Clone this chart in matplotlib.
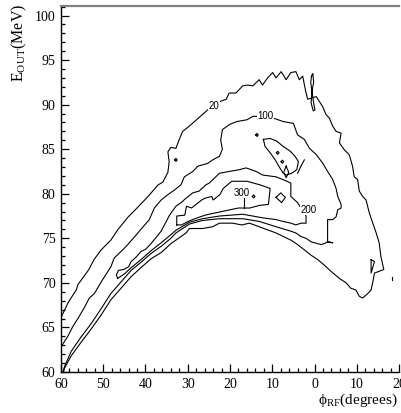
import numpy as np
import matplotlib.pyplot as plt
from matplotlib.ticker import MultipleLocator, FixedLocator, FixedFormatter

plt.rcParams['font.family'] = ['Liberation Serif', 'DejaVu Serif']
plt.rcParams['mathtext.fontset'] = 'custom'
plt.rcParams['mathtext.rm'] = 'Liberation Serif'

# contour lines, (phi_RF [deg], E_out [MeV])
c20 = [(-60.0, 66.1), (-58.3, 67.8), (-56.4, 69.2), (-56.0, 69.8), (-53.4, 71.5), (-52.2, 72.6),
       (-50.5, 73.7), (-48.2, 74.8), (-46.5, 76.0), (-44.1, 77.4), (-41.8, 78.5), (-39.4, 79.7),
       (-37.0, 81.0), (-35.9, 81.3), (-34.7, 82.4), (-34.4, 83.6), (-34.7, 84.7), (-34.0, 85.2),
       (-32.8, 85.1), (-32.0, 86.1), (-31.2, 87.0), (-29.6, 87.6), (-28.4, 88.1), (-26.5, 88.9),
       (-25.3, 89.4), (-23.3, 90.2), (-20.9, 90.6), (-20.2, 91.3), (-18.6, 91.3), (-17.0, 92.1),
       (-15.8, 92.2), (-14.6, 92.1), (-13.1, 92.8), (-12.3, 92.2), (-11.1, 93.0), (-9.9, 93.6),
       (-9.1, 93.0), (-7.9, 93.7), (-7.5, 93.4), (-6.7, 92.8), (-5.6, 93.6), (-4.4, 93.7),
       (-3.6, 92.8), (-2.8, 93.2), (-2.0, 91.3), (-1.6, 90.6), (0.4, 90.9), (1.9, 89.8),
       (2.7, 88.9), (3.5, 88.5), (4.3, 87.6), (5.1, 87.0), (6.3, 86.8), (5.9, 85.7), (7.1, 84.9),
       (8.2, 84.4), (9.0, 83.1), (9.4, 81.9), (10.2, 81.6), (10.6, 80.3), (11.4, 79.7),
       (12.2, 79.3), (13.0, 77.8), (13.8, 76.7), (14.6, 75.6), (15.3, 74.5), (15.7, 73.0),
       (16.4, 71.5), (15.3, 71.3), (14.2, 71.1), (13.8, 70.1), (13.4, 69.2), (12.6, 68.8),
       (11.4, 68.3), (10.6, 68.5), (9.8, 69.2), (8.6, 69.4), (7.5, 70.0), (5.9, 70.5), (3.9, 71.3),
       (2.3, 72.0), (0.8, 72.6), (-0.8, 73.1), (-2.4, 73.7), (-4.0, 74.3), (-5.6, 74.8),
       (-9.1, 75.6), (-13.1, 76.3), (-15.4, 76.7), (-17.2, 76.5), (-19.4, 76.7), (-22.5, 76.7),
       (-24.1, 76.3), (-26.5, 76.1), (-29.6, 76.1), (-30.4, 75.6), (-32.8, 74.8), (-34.0, 74.4),
       (-36.3, 73.4), (-38.7, 72.7), (-41.1, 71.7), (-43.4, 70.7), (-45.8, 69.4), (-48.2, 68.1),
       (-50.5, 66.4), (-52.9, 64.8), (-55.3, 63.3), (-57.6, 61.8), (-59.2, 60.4), (-59.4, 60.0)]

c100 = [(-60.0, 62.8), (-58.4, 64.0), (-57.2, 65.1), (-56.0, 66.0), (-54.5, 67.2), (-53.3, 68.3),
        (-52.1, 68.8), (-50.5, 70.1), (-48.2, 71.8), (-47.4, 72.8), (-45.4, 73.7), (-44.2, 74.3),
        (-41.8, 75.6), (-41.1, 76.0), (-39.1, 77.1), (-37.9, 78.4), (-36.3, 79.3), (-34.7, 79.9),
        (-33.2, 80.4), (-31.6, 81.0), (-30.8, 81.9), (-28.8, 82.5), (-27.6, 83.1), (-25.3, 83.4),
        (-24.1, 83.8), (-22.5, 84.2), (-21.8, 85.0), (-22.2, 86.0), (-21.8, 87.2), (-20.0, 87.8),
        (-18.4, 88.1), (-16.0, 88.3), (-14.5, 88.7), (-12.0, 88.6), (-9.8, 88.5), (-7.4, 88.1),
        (-5.0, 87.9), (-4.0, 86.6), (-2.4, 86.1), (-1.2, 85.1), (0.4, 84.4), (2.0, 83.4),
        (3.1, 82.5), (4.3, 81.6), (5.1, 80.6), (5.5, 79.7), (6.3, 78.8), (6.3, 78.4), (5.5, 78.2),
        (5.1, 77.4), (4.3, 77.1), (3.1, 77.1), (3.1, 74.6), (4.3, 74.5), (3.1, 74.6), (2.3, 74.4),
        (1.5, 74.3), (0.8, 74.4), (-0.8, 74.6), (-2.0, 75.0), (-3.2, 75.2), (-4.4, 75.6),
        (-5.6, 75.8), (-9.1, 76.3), (-13.1, 76.9), (-17.0, 77.2), (-22.5, 77.2), (-26.5, 77.0),
        (-29.6, 76.6), (-32.8, 75.6), (-34.0, 75.0), (-36.3, 74.1), (-38.7, 73.3), (-41.1, 72.3),
        (-43.4, 71.4), (-45.8, 70.1), (-48.2, 68.8), (-50.5, 67.1), (-52.9, 65.4), (-55.3, 63.9),
        (-57.6, 62.3), (-59.0, 60.8), (-59.6, 60.0)]

c200 = [(-46.6, 70.5), (-46.9, 70.9), (-46.4, 71.4), (-45.2, 71.5), (-44.0, 71.8), (-43.4, 72.4),
        (-42.2, 72.9), (-41.1, 73.5), (-39.9, 73.8), (-38.7, 74.4), (-37.5, 75.1), (-36.3, 75.8),
        (-35.3, 76.7), (-34.3, 77.6), (-32.8, 78.6), (-31.6, 79.0), (-30.4, 79.5), (-28.8, 80.1),
        (-27.3, 80.3), (-25.7, 81.0), (-24.9, 81.2), (-22.5, 82.3), (-20.2, 82.5), (-17.8, 82.7),
        (-16.2, 82.9), (-13.8, 82.5), (-12.3, 82.1), (-9.1, 81.9), (-7.5, 81.6), (-5.6, 81.2),
        (-5.6, 79.7), (-4.0, 79.0), (-3.2, 78.4), (-2.0, 77.5), (-2.0, 76.7), (-3.2, 76.7),
        (-4.4, 76.5), (-5.6, 76.7), (-7.5, 76.9), (-9.1, 77.1), (-12.3, 77.3), (-14.6, 77.5),
        (-17.0, 77.7), (-22.5, 77.5), (-26.5, 77.2), (-29.6, 76.8), (-32.8, 75.9), (-34.0, 75.4),
        (-36.3, 74.5), (-38.7, 73.6), (-41.1, 72.6), (-43.4, 71.7), (-45.0, 71.0), (-46.6, 70.5)]

c300 = [(-32.6, 76.5), (-32.6, 77.5), (-30.7, 77.6), (-30.3, 78.6), (-29.1, 78.4), (-26.7, 79.3),
        (-25.9, 79.5), (-24.3, 79.7), (-24.0, 79.3), (-22.4, 79.9), (-21.6, 80.6), (-19.6, 81.4),
        (-16.0, 81.4), (-12.9, 81.0), (-10.5, 80.6), (-10.9, 78.8), (-13.0, 78.7), (-15.3, 78.4),
        (-18.0, 78.4), (-22.0, 78.0), (-25.9, 77.6), (-28.3, 77.2), (-29.9, 76.9), (-31.5, 76.5),
        (-32.6, 76.5)]

# small closed islands
island_a = [(-12.1, 86.1), (-10.5, 86.2), (-8.9, 85.9), (-7.4, 85.3), (-5.8, 84.8), (-4.6, 84.2),
            (-3.8, 83.6), (-4.2, 82.7), (-5.4, 82.3), (-6.6, 82.1), (-7.4, 82.3), (-8.2, 82.9),
            (-9.3, 83.8), (-10.5, 84.6), (-11.7, 85.3), (-12.1, 86.1)]
spike_a = [(-4.0, 82.3), (-3.2, 83.1), (-2.4, 83.8)]
diamond_a = [(-6.7, 83.1), (-6.1, 82.4), (-6.7, 81.8), (-7.3, 82.4), (-6.7, 83.1)]
diamond_b = [(-9.1, 79.6), (-8.0, 80.1), (-6.9, 79.6), (-7.8, 79.0), (-9.1, 79.6)]
spike_top = [(-0.7, 93.2), (-0.4, 93.5), (-0.2, 92.5), (-0.6, 91.5), (-0.2, 90.2), (0.1, 89.4),
             (-0.3, 89.3), (-0.8, 90.2), (-0.6, 91.5), (-0.9, 92.5), (-0.7, 93.2)]
tri_right = [(13.4, 72.6), (14.2, 72.4), (13.4, 71.1), (13.4, 72.6)]
dot_right = [(18.3, 70.3), (18.3, 70.7)]
blobs = [(-13.6, 86.6), (-8.7, 84.6), (-14.4, 79.7), (-32.8, 83.8), (-7.6, 83.6)]
tick_300 = [(-16.6, 78.4), (-16.6, 79.5)]

labels = ['20', '100', '200', '300']
label_pos = [(-23.8, 89.9), (-11.7, 88.75), (-1.3, 78.2), (-17.3, 80.1)]

fig = plt.figure(figsize=(4.01, 4.13), dpi=100)
ax = fig.add_axes([61 / 401, 41 / 413, 338 / 401, 366.3 / 413])

lines = [c20, c100, c200, c300, island_a, spike_a, diamond_a, diamond_b, spike_top,
         tri_right, dot_right, tick_300]
for pts in lines:
    p = np.array(pts)
    ax.plot(p[:, 0], p[:, 1], color='black', lw=0.8)

for bx, by in blobs:
    ax.plot([bx - 0.3, bx, bx + 0.3, bx, bx - 0.3], [by, by + 0.17, by, by - 0.17, by],
            color='black', lw=0.8)

for txt, (lx, ly) in zip(labels, label_pos):
    ax.text(lx, ly, txt, fontsize=7, family=['Liberation Sans', 'DejaVu Sans'],
            ha='center', va='center',
            bbox=dict(boxstyle='square,pad=0.05', fc='white', ec='none'))

ax.set_xlim(-60, 20)
ax.set_ylim(60, 101.1)

xt = list(range(-60, 21, 10))
ax.xaxis.set_major_locator(FixedLocator(xt))
ax.xaxis.set_major_formatter(FixedFormatter([str(abs(v)) for v in xt]))
ax.xaxis.set_minor_locator(MultipleLocator(2))
ax.yaxis.set_major_locator(MultipleLocator(5))
ax.yaxis.set_minor_locator(MultipleLocator(1))

ax.tick_params(which='both', direction='in', top=False, right=False, width=0.9,
               labelsize=10, pad=4)
ax.tick_params(which='major', length=5.5)
ax.tick_params(which='minor', length=3)

ax.spines['right'].set_visible(False)
ax.spines['top'].set_color('#808080')
ax.spines['top'].set_linewidth(1.6)
ax.spines['left'].set_linewidth(1.0)
ax.spines['bottom'].set_linewidth(1.0)

fig.text(19 / 401, 1 - 43 / 413, r'E$_{\rm OUT}$(MeV)', rotation=90,
         ha='center', va='center', fontsize=11.5)
fig.text(398 / 401, 1 - 400 / 413, 'ϕ$_{\\rm RF}$(degrees)', ha='right', va='center',
         fontsize=11)

fig.savefig('out.png', dpi=100)
